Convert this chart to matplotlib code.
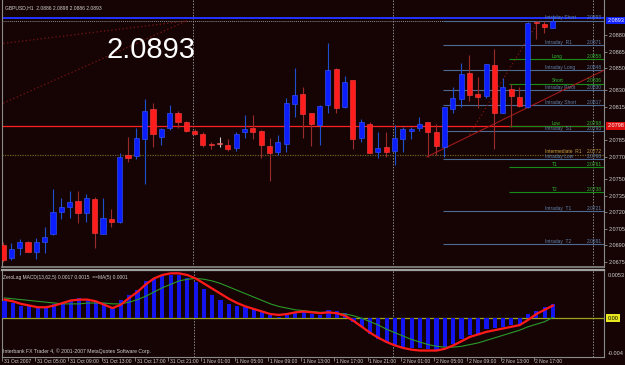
import numpy as np
import matplotlib
matplotlib.use("Agg")
import matplotlib.pyplot as plt
from matplotlib.transforms import blended_transform_factory as blend

# ---- data: GBPUSD H1, 31 Oct 2007 01:00 .. 2 Nov 2007 19:00 --------------
opens = [2.0690, 2.0679, 2.0688, 2.0693, 2.0684, 2.0693, 2.0700, 2.0720, 2.0725, 2.0730,
         2.0719, 2.0732, 2.0700, 2.0714, 2.0711, 2.0772, 2.0771, 2.0786, 2.0813, 2.0788,
         2.0796, 2.0810, 2.0801, 2.0793, 2.0791, 2.0782, 2.0782, 2.0781, 2.0778, 2.0792,
         2.0796, 2.0793, 2.0780, 2.0774, 2.0782, 2.0818, 2.0827, 2.0810, 2.0799, 2.0817,
         2.0849, 2.0815, 2.0839, 2.0787, 2.0800, 2.0774, 2.0779, 2.0775, 2.0786, 2.0793,
         2.0796, 2.0801, 2.0792, 2.0779, 2.0813, 2.0822, 2.0846, 2.0827, 2.0825, 2.0853,
         2.0810, 2.0831, 2.0824, 2.0815, 2.0892, 2.0890, 2.0886]
highs = [2.0693, 2.0692, 2.0696, 2.0694, 2.0697, 2.0707, 2.0741, 2.0733, 2.0739, 2.0739,
         2.0736, 2.0734, 2.0733, 2.0723, 2.0773, 2.0788, 2.0796, 2.0822, 2.0819, 2.0796,
         2.0817, 2.0811, 2.0802, 2.0795, 2.0792, 2.0783, 2.0788, 2.0786, 2.0792, 2.0808,
         2.0808, 2.0794, 2.0787, 2.0790, 2.0823, 2.0850, 2.0833, 2.0810, 2.0817, 2.0873,
         2.0850, 2.0843, 2.0839, 2.0804, 2.0801, 2.0792, 2.0792, 2.0799, 2.0797, 2.0797,
         2.0806, 2.0801, 2.0800, 2.0815, 2.0833, 2.0855, 2.0862, 2.0842, 2.0854, 2.0867,
         2.0841, 2.0836, 2.0833, 2.0892, 2.0893, 2.0893, 2.0898]
lows = [2.0675, 2.0677, 2.0681, 2.0684, 2.0678, 2.0683, 2.0699, 2.0714, 2.0715, 2.0710,
        2.0711, 2.0688, 2.0700, 2.0707, 2.0710, 2.0765, 2.0768, 2.0745, 2.0779, 2.0781,
        2.0794, 2.0796, 2.0792, 2.0790, 2.0779, 2.0777, 2.0779, 2.0775, 2.0775, 2.0787,
        2.0786, 2.0769, 2.0748, 2.0772, 2.0774, 2.0806, 2.0787, 2.0780, 2.0781, 2.0810,
        2.0810, 2.0814, 2.0777, 2.0783, 2.0773, 2.0769, 2.0770, 2.0763, 2.0774, 2.0786,
        2.0793, 2.0770, 2.0772, 2.0770, 2.0810, 2.0815, 2.0820, 2.0814, 2.0823, 2.0777,
        2.0810, 2.0797, 2.0815, 2.0814, 2.0876, 2.0882, 2.0886]
closes = [2.0677, 2.0687, 2.0693, 2.0684, 2.0693, 2.0698, 2.0720, 2.0725, 2.0729, 2.0719,
          2.0733, 2.0701, 2.0715, 2.0711, 2.0770, 2.0769, 2.0787, 2.0811, 2.0791, 2.0795,
          2.0810, 2.0801, 2.0793, 2.0791, 2.0781, 2.0781, 2.0782, 2.0777, 2.0791, 2.0795,
          2.0792, 2.0781, 2.0773, 2.0783, 2.0819, 2.0826, 2.0809, 2.0800, 2.0816, 2.0848,
          2.0814, 2.0838, 2.0786, 2.0801, 2.0773, 2.0778, 2.0774, 2.0787, 2.0795, 2.0795,
          2.0800, 2.0792, 2.0780, 2.0815, 2.0823, 2.0845, 2.0826, 2.0824, 2.0854, 2.0810,
          2.0833, 2.0825, 2.0816, 2.0891, 2.0891, 2.0887, 2.0893]

# ZeroLag MACD(13,62,5) sub window
macd_hist = [0.0020, 0.0018, 0.0015, 0.0014, 0.0013, 0.0013, 0.0017, 0.0018, 0.0022, 0.0024,
             0.0022, 0.0019, 0.0018, 0.0013, 0.0021, 0.0028, 0.0033, 0.0044, 0.0048, 0.0050,
             0.0051, 0.0051, 0.0048, 0.0043, 0.0034, 0.0028, 0.0022, 0.0017, 0.0014, 0.0013,
             0.0011, 0.0008, 0.0004, 0.0002, 0.0004, 0.0008, 0.0008, 0.0005, 0.0004, 0.0010,
             0.0009, 0.0006, -0.0004, -0.0010, -0.0018, -0.0024, -0.0029, -0.0032, -0.0034, -0.0035,
             -0.0035, -0.0036, -0.0037, -0.0034, -0.0030, -0.0024, -0.0020, -0.0018, -0.0013, -0.0012,
             -0.0010, -0.0008, -0.0008, 0.0005, 0.0009, 0.0013, 0.0017]
macd_signal = [0.0022, 0.0020, 0.0017, 0.0015, 0.0013, 0.0013, 0.0015, 0.0018, 0.0021, 0.0022,
               0.0022, 0.0020, 0.0016, 0.0012, 0.0016, 0.0024, 0.0031, 0.0040, 0.0047, 0.0051,
               0.0053, 0.0053, 0.0051, 0.0047, 0.0041, 0.0035, 0.0029, 0.0023, 0.0018, 0.0014,
               0.0011, 0.0008, 0.0005, 0.0004, 0.0005, 0.0007, 0.0008, 0.0007, 0.0006, 0.0007,
               0.0006, 0.0003, -0.0003, -0.0010, -0.0017, -0.0023, -0.0028, -0.0032, -0.0035, -0.0037,
               -0.0038, -0.0038, -0.0038, -0.0036, -0.0032, -0.0027, -0.0022, -0.0019, -0.0016, -0.0014,
               -0.0012, -0.0010, -0.0008, -0.0002, 0.0005, 0.0010, 0.0015]
macd_ma = [0.0024, 0.0023, 0.0022, 0.0021, 0.0020, 0.0019, 0.0018, 0.0017, 0.0017, 0.0017,
           0.0018, 0.0018, 0.0018, 0.0017, 0.0017, 0.0019, 0.0022, 0.0026, 0.0031, 0.0036,
           0.0040, 0.0044, 0.0046, 0.0047, 0.0046, 0.0044, 0.0041, 0.0037, 0.0033, 0.0029,
           0.0025, 0.0021, 0.0017, 0.0014, 0.0012, 0.0010, 0.0009, 0.0008, 0.0007, 0.0007,
           0.0006, 0.0005, 0.0003, 0.0000, -0.0004, -0.0008, -0.0013, -0.0017, -0.0021, -0.0025,
           -0.0028, -0.0031, -0.0033, -0.0034, -0.0034, -0.0033, -0.0031, -0.0029, -0.0026, -0.0023,
           -0.0020, -0.0017, -0.0014, -0.0010, -0.0007, -0.0004, 0.0001]

time_labels = ["31 Oct 2007", "31 Oct 05:00", "31 Oct 09:00", "31 Oct 13:00", "31 Oct 17:00",
               "31 Oct 21:00", "1 Nov 01:00", "1 Nov 05:00", "1 Nov 09:00", "1 Nov 13:00",
               "1 Nov 17:00", "1 Nov 21:00", "2 Nov 01:00", "2 Nov 05:00", "2 Nov 09:00",
               "2 Nov 13:00", "2 Nov 17:00"]
day_starts = [23, 47, 71]          # bar index of 00:00 each day
price_ticks = [2.0880, 2.0865, 2.0850, 2.0830, 2.0815, 2.0785, 2.0770,
               2.0750, 2.0735, 2.0720, 2.0705, 2.0690, 2.0675]

# pivot / target levels
level_names = ["Intraday Short", "Intraday  R1", "Long", "Intraday Long", "Short",
               "Intraday Pivot", "Intraday Short", "Low", "Intraday  S1",
               "Intermediate  R1", "Intraday Low", "T1", "T2", "Intraday  T1", "Intraday  T2"]
level_prices = [2.0893, 2.0871, 2.0858, 2.0848, 2.0836, 2.0830, 2.0817, 2.0798, 2.0793,
                2.0772, 2.0768, 2.0761, 2.0738, 2.0721, 2.0691]
level_kinds = ["intra", "intra", "trade", "intra", "trade", "intra", "intra", "trade", "intra",
               "inter", "intra", "trade", "trade", "intra", "intra"]

# hand-drawn trendlines: (bar, price) -> (bar, price)
dotted_lines = [((-0.4, 2.0872), (22.4, 2.0893)),
                ((-0.4, 2.0817), (22.1, 2.0893)),
                ((56.0, 2.0790), (64.4, 2.0894))]
solid_line = ((50.9, 2.0770), (72.1, 2.0848))

# ---- style --------------------------------------------------------------
BG = "#160404"
GRID = "#8a8a8a"
TXT = "#cfcfcf"
BLUE = "#0a1eff"
RED = "#ff1c1c"
FONT = "Liberation Sans"
kind_line = {"intra": "#4d6b92", "trade": "#178a17", "inter": "#7a6a20"}
kind_text = {"intra": "#5f82ad", "trade": "#2fb52f", "inter": "#c8a040"}

plt.rcParams["font.family"] = [FONT, "DejaVu Sans"]

o, h, l, c = (np.array(v) for v in (opens, highs, lows, closes))
x = np.arange(len(o))
XMIN, XMAX = -0.12, 72.15

fig = plt.figure(figsize=(6.25, 3.65), dpi=100, facecolor=BG)
ax = fig.add_axes([2 / 625, 1 - 267 / 365, 602 / 625, 267 / 365], facecolor=BG)
ax2 = fig.add_axes([2 / 625, 1 - 357 / 365, 602 / 625, 87 / 365], facecolor=BG)

for a in (ax, ax2):
    a.set_xlim(XMIN, XMAX)
    for s in a.spines.values():
        s.set_color(GRID)
        s.set_linewidth(0.8)
    for d in day_starts:
        a.axvline(d - 0.2, color=GRID, lw=0.7, ls=(0, (1.5, 1.5)), zorder=1)
ax.spines["top"].set_visible(False)
ax.spines["bottom"].set_linewidth(1.2)
ax2.spines["top"].set_linewidth(1.6)
ax2.spines["top"].set_color("#a0a0a0")

# ---- main window --------------------------------------------------------
ax.set_ylim(2.06705, 2.09116)

ax.axhline(2.0895, color="#2233ff", lw=1.4, zorder=2)
ax.axhline(2.0893, color="#8c8c8c", lw=0.7, ls=(0, (1, 1)), zorder=2)
ax.axhline(2.0798, color="#ff2020", lw=0.9, zorder=2)
ax.axhline(2.0772, color="#6e6220", lw=0.9, ls=(0, (1, 1)), zorder=2)

tr_lv = blend(ax.transAxes, ax.transData)
for name, p, kind in zip(level_names, level_prices, level_kinds):
    start = 60.8 if kind == "trade" else 52.8
    if kind != "inter":
        ax.hlines(p, start, XMAX, color=kind_line[kind], lw=0.8, zorder=2)
    xt = 0.902 if name.startswith("Int") else 0.913
    ax.text(xt, p + 0.00002, name, transform=tr_lv, fontsize=3.5, color=kind_text[kind],
            va="bottom", ha="left", zorder=6)
    ax.text(0.997, p + 0.00002, f"{p:.4f}", transform=tr_lv, fontsize=3.5,
            color=kind_text[kind], va="bottom", ha="right", zorder=6)

for (x0, y0), (x1, y1) in dotted_lines:
    ax.plot([x0, x1], [y0, y1], color="#7a1414", lw=0.9, ls=(0, (1, 2)), zorder=2)
ax.plot(*zip(*solid_line), color="#a01818", lw=0.8, zorder=2)

# candles
up = c > o
doji = c == o
body_col = np.where(doji, "#c8c8c8", np.where(up, BLUE, RED))
wick_col = np.where(doji, "#c8c8c8", np.where(up, "#1d4fd0", "#9a2a2a"))
ax.vlines(x, l, h, colors=wick_col, lw=0.8, zorder=3)
body_h = np.maximum(np.abs(c - o), 0.00004)
ax.bar(x, body_h, bottom=np.minimum(o, c), width=0.62, color=body_col,
       edgecolor=np.where(up, "#3a5cff", "#ff4040"), linewidth=0.4, zorder=4)

ax.yaxis.tick_right()
ax.set_yticks(price_ticks)
ax.set_yticklabels([f"{v:.4f}" for v in price_ticks])
ax.tick_params(axis="y", colors=GRID, labelcolor=TXT, labelsize=4.0, length=2, pad=1.2, width=0.6)
ax.set_xticks([])

tr_r = blend(ax.transAxes, ax.transData)
ax.text(1.006, 2.0893, f"{closes[-1]:.4f}", transform=tr_r, fontsize=4.0, color="white",
        va="center", ha="left", clip_on=False, zorder=8,
        bbox=dict(boxstyle="square,pad=0.25", fc="#1020ff", ec="none"))
ax.text(1.006, 2.0798, "2.0798", transform=tr_r, fontsize=4.0, color="white",
        va="center", ha="left", clip_on=False, zorder=8,
        bbox=dict(boxstyle="square,pad=0.25", fc="#e01010", ec="none"))

fig.text(5 / 625, 1 - 9 / 365, f"GBPUSD,H1  {opens[-1]:.4f} {highs[-1]:.4f} {lows[-1]:.4f} {closes[-1]:.4f}",
         fontsize=3.6, color=TXT, va="baseline")
fig.text(107 / 625, 1 - 58 / 365, f"{closes[-1]:.4f}", fontsize=21, color="white",
         va="baseline", family=FONT)

# ---- MACD sub window ----------------------------------------------------
ax2.set_ylim(-0.00456, 0.00569)
ax2.axhline(0, color="#9aa21e", lw=0.9, zorder=2)
ax2.bar(x, macd_hist, width=0.5, color="#1414ee", zorder=3)
ax2.plot(x, macd_ma, color="#2a9a2a", lw=0.8, zorder=4)
ax2.plot(x, macd_signal, color="#ff1a1a", lw=1.6, zorder=5)
ax2.set_yticks([])
ax2.set_xticks(np.arange(0, 68, 4) - 0.3)
ax2.set_xticklabels([])
ax2.tick_params(axis="x", colors=GRID, length=3, width=0.6)

tr2 = blend(ax2.transData, ax2.transAxes)
for i, lab in enumerate(time_labels):
    ax2.text(i * 4 - 0.1, -0.02, lab, transform=tr2, fontsize=3.6, color=TXT,
             va="top", ha="left", clip_on=False)

tr2r = blend(ax2.transAxes, ax2.transData)
ax2.text(1.006, 0.0053, "0.0053", transform=tr2r, fontsize=4.0, color=TXT,
         va="top", ha="left", clip_on=False)
ax2.text(1.006, 0.0, "0.00", transform=tr2r, fontsize=4.0, color="black",
         va="center", ha="left", clip_on=False,
         bbox=dict(boxstyle="square,pad=0.25", fc="#e8e820", ec="none"))
ax2.text(1.006, -0.0042, "-0.004", transform=tr2r, fontsize=4.0, color=TXT,
         va="center", ha="left", clip_on=False)

fig.text(3 / 625, 1 - 279 / 365,
         f"ZeroLag MACD(13,62,5) {macd_hist[-1]:.4f} {macd_signal[-1]:.4f}  ==MA(5) {macd_ma[-1]:.4f}",
         fontsize=3.5, color=TXT, va="baseline")
fig.text(3 / 625, 1 - 353 / 365,
         "Interbank FX Trader 4, \u00a9 2001-2007 MetaQuotes Software Corp.",
         fontsize=3.7, color=TXT, va="baseline")

fig.savefig("out.png", dpi=100, facecolor=BG)
